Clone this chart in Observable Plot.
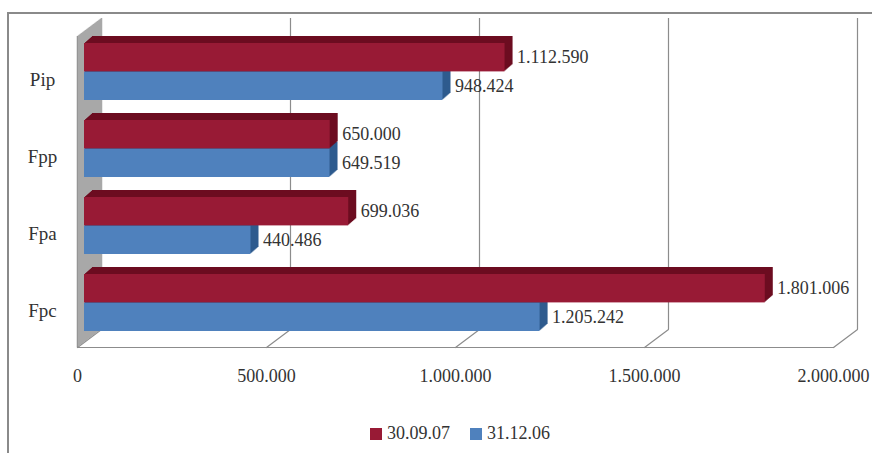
<!DOCTYPE html>
<html><head><meta charset="utf-8">
<script src="https://cdn.jsdelivr.net/npm/d3@7"></script>
<script src="https://cdn.jsdelivr.net/npm/@observablehq/plot@0.6"></script>
<style>
body{margin:0;background:#fff;}
#wrap{position:relative;width:872px;height:453px;overflow:hidden;font-family:"Liberation Serif","Times New Roman",Times,"DejaVu Serif",serif;}
#wrap svg text{font-family:"Liberation Serif","Times New Roman",Times,"DejaVu Serif",serif !important;}
#border{position:absolute;left:7px;top:12px;width:900px;height:500px;border-top:2px solid #8a8a8a;border-left:2px solid #8a8a8a;}
#chart{position:absolute;left:0;top:0;}
#legend{position:absolute;left:370px;top:423px;font-size:18px;color:#333;display:flex;align-items:center;white-space:nowrap;}
.sw{display:inline-block;width:12px;height:12px;margin-right:5px;}
.item{display:flex;align-items:center;margin-right:20px;}
</style></head>
<body>
<div id="wrap"><div id="border"></div><div id="chart"></div><div id="legend"></div></div>
<script>
const categories = ["Pip", "Fpp", "Fpa", "Fpc"];
const series = ["30.09.07", "31.12.06"];
const values0907 = [1112590, 650000, 699036, 1801006];
const values1206 = [948424, 649519, 440486, 1205242];
const xTicks = [0, 500000, 1000000, 1500000, 2000000];

const serif = "'Liberation Serif', 'Times New Roman', Times, 'DejaVu Serif', serif";

const colors = {
  "30.09.07": {front: "#981a35", dark: "#6c0c20"},
  "31.12.06": {front: "#4f81bd", dark: "#2e5b8e"}
};

const fmt = d3.formatLocale({thousands: ".", decimal: ",", grouping: [3], currency: ["", ""]}).format(",d");

const rows0907 = categories.map((c, i) => ({cat: c, series: series[0], value: values0907[i]}));
const rows1206 = categories.map((c, i) => ({cat: c, series: series[1], value: values1206[i]}));

const depthX = 8, depthY = 7, half = 28.6, barDx = 7;

function barMarks(rows, s, insetOpt) {
  const marks = [];
  for (let k = 1; k <= depthX; k++) {
    marks.push(Plot.barX(rows, {x: "value", y: "cat", dx: barDx + k, dy: -k * depthY / depthX, fill: colors[s].dark, ...insetOpt}));
  }
  marks.push(Plot.barX(rows, {x: "value", y: "cat", dx: barDx, fill: colors[s].front, ...insetOpt}));
  return marks;
}

const wall = [];
for (let k = 0; k <= 24; k++) {
  wall.push(Plot.ruleX([0], {dx: k, dy: 18 - 0.75 * k, stroke: k === 0 ? "#8f8f8f" : "#a8a8a8", strokeWidth: 1.5}));
}

const lineShape = {draw(context, l) { context.moveTo(0, 0); context.lineTo(0, -l); }};

const plot = Plot.plot({
  width: 872,
  height: 405,
  marginLeft: 77,
  marginRight: 39,
  marginTop: 18,
  marginBottom: 76,
  style: {fontFamily: serif, fontSize: "18px", color: "#333", background: "transparent"},
  x: {domain: [0, 2000000]},
  y: {domain: categories, range: [32.35, 341.55], paddingInner: 0.26, paddingOuter: 0.13},
  marks: [
    Plot.ruleX(xTicks.slice(1), {dx: 24, stroke: "#8c8c8c", strokeWidth: 1.2}),
    Plot.vector(xTicks, {x: d => d, frameAnchor: "bottom", dx: 24, rotate: 233.13, length: 30, anchor: "start", stroke: "#8c8c8c", strokeWidth: 1.2, shape: lineShape}),
    Plot.frame({anchor: "bottom", dy: 18, stroke: "#8c8c8c", strokeWidth: 1.2}),
    ...wall,
    ...barMarks(rows1206, series[1], {insetTop: half}),
    ...barMarks(rows0907, series[0], {insetBottom: half}),
    Plot.text(rows0907, {x: "value", y: "cat", text: d => fmt(d.value), dx: barDx + 12, dy: -half / 2, textAnchor: "start", fill: "#333", fontSize: 18, fontFamily: serif}),
    Plot.text(rows1206, {x: "value", y: "cat", text: d => fmt(d.value), dx: barDx + 12, dy: half / 2, textAnchor: "start", fill: "#333", fontSize: 18, fontFamily: serif}),
    Plot.axisX(xTicks, {tickSize: 0, tickPadding: 40, tickFormat: fmt, fontSize: 18, fontFamily: serif, label: null}),
    Plot.axisY({tickSize: 0, tickPadding: 35, textAnchor: "middle", dy: 8, fontSize: 19, fontFamily: serif, label: null})
  ]
});
document.getElementById("chart").appendChild(plot);

const legend = document.getElementById("legend");
series.forEach(s => {
  const item = document.createElement("span");
  item.className = "item";
  const sw = document.createElement("span");
  sw.className = "sw";
  sw.style.background = colors[s].front;
  item.appendChild(sw);
  item.appendChild(document.createTextNode(s));
  legend.appendChild(item);
});
</script>
</body></html>
